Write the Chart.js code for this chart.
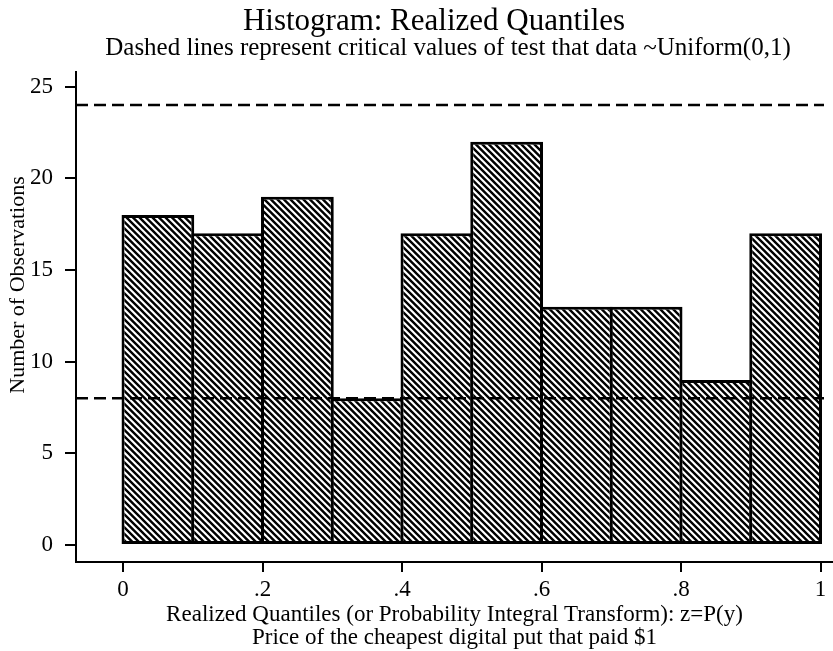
<!DOCTYPE html>
<html><head><meta charset="utf-8">
<script src="https://cdn.jsdelivr.net/npm/chart.js@4.4.1/dist/chart.umd.min.js"></script>
<style>html,body{margin:0;padding:0;background:#fff;} #wrap{width:833px;height:651px;}</style>
</head><body><div id="wrap"><canvas id="c" width="833" height="651"></canvas></div>
<script>
// ---- data ----
const binCenters = [0.05, 0.15, 0.25, 0.35, 0.45, 0.55, 0.65, 0.75, 0.85, 0.95];
const counts = [18, 17, 19, 8, 17, 22, 13, 13, 9, 17];
const criticalValues = [24, 8];
const xTickValues = [0, 0.2, 0.4, 0.6, 0.8, 1];
const xTickLabels = ['0', '.2', '.4', '.6', '.8', '1'];
const yTickValues = [0, 5, 10, 15, 20, 25];
const yTickLabels = ['0', '5', '10', '15', '20', '25'];
const titleText = 'Histogram: Realized Quantiles';
const subtitleText = 'Dashed lines represent critical values of test that data ~Uniform(0,1)';
const xTitleLines = ['Realized Quantiles (or Probability Integral Transform): z=P(y)', 'Price of the cheapest digital put that paid $1'];
const yTitleText = 'Number of Observations';
const dashExtent = [-0.0674, 1.005];

// ---- config ----
const X_MIN = -0.0674, X_MAX = 1.0179;
const Y_MIN = -0.93, Y_MAX = 25.8;
const FONT = 'Liberation Serif';

function hatchPattern() {
  const s = 13;
  const c = document.createElement('canvas');
  c.width = s; c.height = s;
  const g = c.getContext('2d');
  g.fillStyle = '#fff'; g.fillRect(0, 0, s, s);
  g.strokeStyle = '#000'; g.lineWidth = 2.4;
  g.beginPath();
  for (const o of [-13, -6.5, 0, 6.5, 13]) { g.moveTo(o - 2, -2); g.lineTo(o + s + 2, s + 2); }
  g.stroke();
  return g.createPattern(c, 'repeat');
}

// Titles placed as in the reference (Stata centres them slightly differently)
const titlesPlugin = {
  id: 'titles',
  afterDraw(chart) {
    const ctx = chart.ctx, ca = chart.chartArea;
    ctx.save();
    ctx.fillStyle = '#000';
    ctx.textAlign = 'center';
    ctx.textBaseline = 'alphabetic';
    ctx.font = '31px "' + FONT + '"';
    ctx.fillText(titleText, 434, 30);
    ctx.font = '25px "' + FONT + '"';
    ctx.fillText(subtitleText, 448, 55);
    ctx.translate(24, (ca.top + ca.bottom) / 2 - 32);
    ctx.rotate(-Math.PI / 2);
    ctx.font = '22px "' + FONT + '"';
    ctx.fillText(yTitleText, 0, 0);
    ctx.restore();
  }
};

const lineSets = criticalValues.map(v => ({
  type: 'line',
  data: dashExtent.map(x => ({x: x, y: v})),
  borderColor: '#000', borderWidth: 2.4, borderDash: [12, 6],
  pointRadius: 0, fill: false, tension: 0, order: 0
}));

const barSet = {
  type: 'bar',
  data: binCenters.map((x, i) => ({x: x, y: counts[i]})),
  backgroundColor: hatchPattern(),
  borderColor: '#000', borderWidth: 3, borderSkipped: false,
  barPercentage: 1.043, categoryPercentage: 1, order: 1
};

new Chart(document.getElementById('c'), {
  type: 'bar',
  data: { datasets: [...lineSets, barSet] },
  plugins: [titlesPlugin],
  options: {
    responsive: false, animation: false, devicePixelRatio: 1,
    layout: { padding: { top: 72, left: 0, right: 0, bottom: 0 } },
    plugins: {
      legend: { display: false }, tooltip: { enabled: false },
      title: { display: false }, subtitle: { display: false }
    },
    scales: {
      x: {
        type: 'linear', min: X_MIN, max: X_MAX, offset: false,
        grid: { display: true, drawOnChartArea: false, drawTicks: true, tickLength: 10, lineWidth: 2, tickWidth: 2, color: '#000', tickColor: '#000', offset: false },
        border: { display: true, color: '#000', width: 2 },
        ticks: { color: '#000', font: { family: FONT, size: 23 }, padding: 4, maxRotation: 0, autoSkip: false,
          callback: (v, i) => xTickLabels[i] },
        afterBuildTicks: s => { s.ticks = xTickValues.map(v => ({value: v})); },
        afterFit: s => { s.height = 89; },
        title: { display: true, text: xTitleLines, color: '#000',
          font: { family: FONT, size: 23, lineHeight: 1.0 }, padding: { top: 0, bottom: 1.5 } }
      },
      y: {
        type: 'linear', min: Y_MIN, max: Y_MAX,
        grid: { display: true, drawOnChartArea: false, drawTicks: true, tickLength: 11, lineWidth: 2, tickWidth: 2, color: '#000', tickColor: '#000' },
        border: { display: true, color: '#000', width: 2 },
        ticks: { color: '#000', font: { family: FONT, size: 23 }, padding: 12, autoSkip: false,
          callback: (v, i) => yTickLabels[i] },
        afterBuildTicks: s => { s.ticks = yTickValues.map(v => ({value: v})); },
        afterFit: s => { s.width = 76; },
        title: { display: false }
      }
    }
  }
});
</script></body></html>
